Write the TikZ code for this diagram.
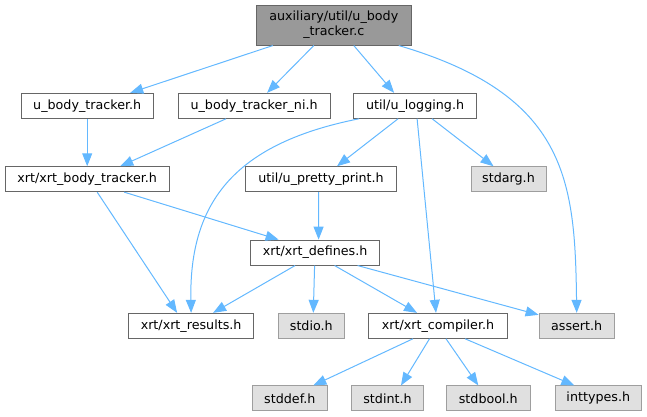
\documentclass[tikz,border=0pt]{standalone}
\usepackage{fontspec}
\setmainfont{DejaVu Sans}
\usetikzlibrary{arrows.meta}
\definecolor{edgeblue}{HTML}{63B8FF}
\definecolor{rootgray}{HTML}{999999}
\definecolor{sysgray}{HTML}{E0E0E0}

\begin{document}
\begin{tikzpicture}[x=1pt,y=-1pt,
    file/.style={draw=black!60,fill=white,line width=0.9pt,minimum height=25pt,inner sep=0pt,
                 font=\fontsize{12.7}{15}\selectfont},
    sys/.style={file,draw=black!38,fill=sysgray},
    dep/.style={draw=edgeblue,line width=1pt,-{Triangle[length=13pt,width=10pt]}}]
            \useasboundingbox (0,0) rectangle (647,417);

            \node[file,fill=rootgray,minimum width=155.7pt,minimum height=40pt,align=center] (root) at (333.8,25.1) {auxiliary/util/u\_body\\\_tracker.c};

            \node[file,minimum width=132pt]   (ubt)   at (87.2,105.8)  {u\_body\_tracker.h};
            \node[file,minimum width=152.3pt] (ubtni) at (254.1,105.8) {u\_body\_tracker\_ni.h};
            \node[file,minimum width=123.4pt] (ulog)  at (415.1,105.8) {util/u\_logging.h};

            \node[file,minimum width=164pt]   (xbt)    at (87.2,179.2)  {xrt/xrt\_body\_tracker.h};
            \node[file,minimum width=150.3pt] (upp)    at (321,179.2)   {util/u\_pretty\_print.h};
            \node[sys,minimum width=75pt]     (stdarg) at (508.5,179.2) {stdarg.h};

            \node[file,minimum width=128.4pt] (xdef) at (315.1,252.6) {xrt/xrt\_defines.h};

            \node[file,minimum width=125.4pt] (xres)   at (191.1,325.8) {xrt/xrt\_results.h};
            \node[sys,minimum width=66.7pt]   (stdio)  at (311.3,325.8) {stdio.h};
            \node[file,minimum width=138.4pt] (xcomp)  at (438,325.8)   {xrt/xrt\_compiler.h};
            \node[sys,minimum width=75.3pt]   (assert) at (576.7,325.8) {assert.h};

            \node[sys,minimum width=75pt]   (stddef)   at (289.8,398.4) {stddef.h};
            \node[sys,minimum width=71.6pt] (stdint)   at (387.5,398.4) {stdint.h};
            \node[sys,minimum width=83.3pt] (stdbool)  at (488.3,398.4) {stdbool.h};
            \node[sys,minimum width=86.7pt] (inttypes) at (598.3,398.4) {inttypes.h};

            \begin{scope}[dep]
                \draw ([xshift=-61pt]root.south) -- ([xshift=43pt]ubt.north);
                \draw ([xshift=-20pt]root.south) -- ([xshift=13pt]ubtni.north);
                \draw ([xshift=20pt]root.south)  -- ([xshift=-21pt]ulog.north);
                \draw ([xshift=65pt]root.south) .. controls (567,95) and (575,180) .. (assert.north);

                \draw (ubt) -- (xbt);
                \draw ([xshift=-28pt]ubtni.south) -- ([xshift=33pt]xbt.north);

                \draw ([xshift=-56pt]ulog.south) .. controls (237,143) and (189,200) .. (xres.north);
                \draw ([xshift=-17pt]ulog.south) -- ([xshift=16pt]upp.north);
                \draw ([xshift=2pt]ulog.south)   -- ([xshift=-2pt]xcomp.north);
                \draw ([xshift=17pt]ulog.south)  -- ([xshift=-15pt]stdarg.north);

                \draw ([xshift=10pt]xbt.south) -- ([xshift=-14pt]xres.north);
                \draw ([xshift=37pt]xbt.south) -- ([xshift=-36.5pt]xdef.north);
                \draw ([xshift=-2.5pt]upp.south) -- ([xshift=3.5pt]xdef.north);

                \draw ([xshift=-20pt]xdef.south)   -- ([xshift=22pt]xres.north);
                \draw ([xshift=-0.5pt]xdef.south)  -- ([xshift=2pt]stdio.north);
                \draw ([xshift=19.5pt]xdef.south)  -- ([xshift=-21pt]xcomp.north);
                \draw ([xshift=42.5pt]xdef.south)  -- ([yshift=-2pt]assert.north west);

                \draw ([xshift=-25pt]xcomp.south) -- ([xshift=23.5pt]stddef.north);
                \draw ([xshift=-8.5pt]xcomp.south) -- ([xshift=13.5pt]stdint.north);
                \draw ([xshift=8pt]xcomp.south)   -- ([xshift=-10pt]stdbool.north);
                \draw ([xshift=27pt]xcomp.south)  -- ([xshift=-24pt]inttypes.north);
            \end{scope}
        \end{tikzpicture}
\end{document}
